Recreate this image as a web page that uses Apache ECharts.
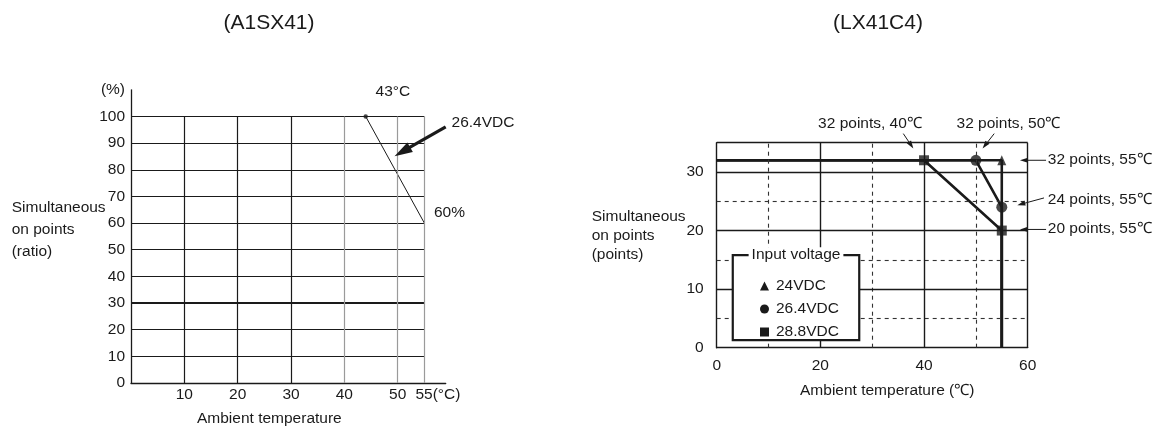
<!DOCTYPE html>
<html><head><meta charset="utf-8">
<script src="https://cdn.jsdelivr.net/npm/echarts@6/dist/echarts.min.js"></script>
<style>html,body{margin:0;padding:0;background:#fff}#c{width:1169px;height:432px}</style>
</head><body><div id="c"></div>
<script>
// ---------- Left chart (A1SX41) ----------
const leftTitle = '(A1SX41)';
const leftXTickLabels = [10, 20, 30, 40, 50];
const leftXEndLabel = 55;
const leftYTickLabels = [0, 10, 20, 30, 40, 50, 60, 70, 80, 90, 100];
const leftCurve = [[44, 100], [55, 60]];          // 26.4VDC derating line
const leftMarks = [[44, 100]];
const leftVGridDark = [10, 20, 30];
const leftVGridLight = [40, 50, 55];
const leftHGrid = [10, 20, 30, 40, 50, 60, 70, 80, 90, 100];
const leftHGridBold = [30];
const leftNotes = [
  { text: '43°C', at: [49.1, 109.4], align: 'center' },
  { text: '26.4VDC', at: [60.1, 97.6], align: 'left' },
  { text: '60%', at: [56.8, 63.8], align: 'left' }
];
const leftArrow = { from: [59.0, 96.1], to: [49.4, 85.1] };

// ---------- Right chart (LX41C4) ----------
const rightTitle = '(LX41C4)';
const rightXTickLabels = [0, 20, 40, 60];
const rightYTickLabels = [0, 10, 20, 30];
const seriesNames = ['24VDC', '26.4VDC', '28.8VDC'];
const line24 = [[0, 32], [55, 32], [55, 0]];
const marks24 = [[55, 32]];
const line264 = [[0, 32], [50, 32], [55, 24], [55, 0]];
const marks264 = [[50, 32], [55, 24]];
const line288 = [[0, 32], [40, 32], [55, 20], [55, 0]];
const marks288 = [[40, 32], [55, 20]];
const rightSolidX = [20, 40, 60];
const rightDashX = [10, 30, 50];
const rightSolidY = [10, 20, 30, 35];
const rightDashY = [5, 15, 25];
const rightNotes = [
  { text: '32 points, 40\u2103', at: [29.57, 38.31], align: 'center' },
  { text: '32 points, 50\u2103', at: [56.28, 38.31], align: 'center' },
  { text: '32 points, 55\u2103', at: [63.87, 32.12], align: 'left' },
  { text: '24 points, 55\u2103', at: [63.87, 25.35], align: 'left' },
  { text: '20 points, 55\u2103', at: [63.87, 20.36], align: 'left' }
];
const rightArrows = [
  { from: [36.0, 36.55], to: [37.94, 34.0] },
  { from: [53.54, 36.55], to: [51.29, 34.0] },
  { from: [63.54, 32.0], to: [58.5, 32.0] },
  { from: [63.15, 25.57], to: [58.0, 24.33] },
  { from: [63.54, 20.19], to: [58.5, 20.19] }
];
const legendBox = { from: [3.1, 15.8], to: [27.5, 1.31] };

const FONT = 'Liberation Sans, Arial, Helvetica, sans-serif';
const FS = 15.5;
const INK = '#1a1a1a';

function hLines(ys, x0, x1, style) {
  return ys.map(y => [{ coord: [x0, y], lineStyle: style }, { coord: [x1, y] }]);
}
function vLines(xs, y0, y1, style) {
  return xs.map(x => [{ coord: [x, y0], lineStyle: style }, { coord: [x, y1] }]);
}

const dark = { color: INK, width: 1.2, type: 'solid' };
const light = { color: '#9a9a9a', width: 1.2, type: 'solid' };
const bold = { color: INK, width: 2.2, type: 'solid' };
const dash = { color: '#333', width: 1.1, type: [4, 4] };
const frame = { color: INK, width: 1.4, type: 'solid' };

const leftGridLines = [].concat(
  hLines(leftHGrid.filter(v => !leftHGridBold.includes(v)), 0, 55, dark),
  hLines(leftHGridBold, 0, 55, bold),
  vLines(leftVGridDark, 0, 100, dark),
  vLines(leftVGridLight, 0, 100, light)
);
const rightGridLines = [].concat(
  vLines(rightDashX, 0, 35, dash),
  hLines(rightDashY, 0, 60, dash),
  vLines(rightSolidX, 0, 35, frame),
  hLines(rightSolidY, 0, 60, frame)
);

function helperSeries(xi, lines) {
  return {
    type: 'line', xAxisIndex: xi, yAxisIndex: xi, data: [[0, 0]], symbol: 'none',
    lineStyle: { opacity: 0 }, silent: true, z: 1, clip: false,
    markLine: { silent: true, symbol: ['none', 'none'], label: { show: false },
      animation: false, data: lines }
  };
}

const thick = { color: INK, width: 2.6 };

const option = {
  animation: false,
  textStyle: { fontFamily: FONT, color: INK },
  title: [
    { text: leftTitle, left: 264, top: 8, textAlign: 'center',
      textStyle: { fontFamily: FONT, fontSize: 21, fontWeight: 'normal', color: INK } },
    { text: rightTitle, left: 873, top: 8, textAlign: 'center',
      textStyle: { fontFamily: FONT, fontSize: 21, fontWeight: 'normal', color: INK } }
  ],
  grid: [
    { left: 131, top: 89.8, width: 314.7, height: 295.9 },
    { left: 716.7, top: 142.7, width: 311, height: 205 }
  ],
  xAxis: [
    { gridIndex: 0, type: 'value', min: 0, max: 59, interval: 5,
      axisLine: { lineStyle: { color: INK, width: 1.3 } }, axisTick: { show: false },
      splitLine: { show: false },
      axisLabel: { fontSize: FS, color: INK, margin: 4, fontFamily: FONT,
        formatter: v => v === leftXEndLabel ? '{p|}' + v + '(°C)' : (leftXTickLabels.includes(v) ? String(v) : ''),
        rich: { p: { width: 27 } } },
      name: 'Ambient temperature', nameLocation: 'middle', nameGap: 28,
      nameTextStyle: { fontSize: FS, color: INK, fontFamily: FONT, padding: [0, 38, 0, 0] } },
    { gridIndex: 1, type: 'value', min: 0, max: 60, interval: 20,
      axisLine: { lineStyle: { color: INK, width: 1.4 } }, axisTick: { show: false },
      splitLine: { show: false },
      axisLabel: { fontSize: FS, color: INK, margin: 10, fontFamily: FONT,
        formatter: v => rightXTickLabels.includes(v) ? String(v) : '' },
      name: 'Ambient temperature (\u2103)', nameLocation: 'middle', nameGap: 35,
      nameTextStyle: { fontSize: FS, color: INK, fontFamily: FONT, padding: [0, 0, 0, 30] } }
  ],
  yAxis: [
    { gridIndex: 0, type: 'value', min: 0, max: 110, interval: 10,
      axisLine: { show: true, lineStyle: { color: INK, width: 1.3 } }, axisTick: { show: false },
      splitLine: { show: false },
      axisLabel: { fontSize: FS, color: INK, margin: 6, fontFamily: FONT,
        formatter: v => v === 110 ? '(%)' : (leftYTickLabels.includes(v) ? String(v) : '') } },
    { gridIndex: 1, type: 'value', min: 0, max: 35, interval: 10,
      axisLine: { show: true, lineStyle: { color: INK, width: 1.4 } }, axisTick: { show: false },
      splitLine: { show: false },
      axisLabel: { fontSize: FS, color: INK, margin: 13, fontFamily: FONT,
        formatter: v => rightYTickLabels.includes(v) ? String(v) : '' } }
  ],
  legend: {
    data: [
      { name: seriesNames[0], icon: 'triangle' },
      { name: seriesNames[1], icon: 'circle' },
      { name: seriesNames[2], icon: 'rect' }
    ],
    orient: 'vertical', left: 755, top: 273, itemWidth: 9, itemHeight: 9, itemGap: 7,
    z: 20, selectedMode: false,
    textStyle: { fontSize: FS, color: INK, fontFamily: FONT, lineHeight: 16, padding: [0, 0, 0, 2] }
  },
  series: [
    helperSeries(0, leftGridLines),
    helperSeries(1, rightGridLines),
    { name: '26.4VDC (A1SX41)', type: 'line', xAxisIndex: 0, yAxisIndex: 0, data: leftCurve,
      symbol: 'none', lineStyle: { color: INK, width: 1 }, z: 3 },
    { name: '26.4VDC (A1SX41) point', type: 'scatter', xAxisIndex: 0, yAxisIndex: 0, data: leftMarks,
      symbol: 'circle', symbolSize: 4.5, itemStyle: { color: INK }, z: 4 },

    { name: seriesNames[0], type: 'line', xAxisIndex: 1, yAxisIndex: 1, data: line24,
      symbol: 'none', lineStyle: thick, itemStyle: { color: INK }, z: 3 },
    { name: seriesNames[1], type: 'line', xAxisIndex: 1, yAxisIndex: 1, data: line264,
      symbol: 'none', lineStyle: thick, itemStyle: { color: INK }, z: 3 },
    { name: seriesNames[2], type: 'line', xAxisIndex: 1, yAxisIndex: 1, data: line288,
      symbol: 'none', lineStyle: thick, itemStyle: { color: INK }, z: 3 },
    { name: seriesNames[0], type: 'scatter', xAxisIndex: 1, yAxisIndex: 1, data: marks24,
      symbol: 'triangle', symbolSize: [9, 10], itemStyle: { color: INK }, z: 4 },
    { name: seriesNames[1], type: 'scatter', xAxisIndex: 1, yAxisIndex: 1, data: marks264,
      symbol: 'circle', symbolSize: 11, itemStyle: { color: INK }, z: 4 },
    { name: seriesNames[2], type: 'scatter', xAxisIndex: 1, yAxisIndex: 1, data: marks288,
      symbol: 'rect', symbolSize: 10, itemStyle: { color: INK }, z: 4 }
  ]
};

const chart = echarts.init(document.getElementById('c'), null, { renderer: 'canvas' });
chart.setOption(option);

const L = p => chart.convertToPixel({ gridIndex: 0 }, p);
const R = p => chart.convertToPixel({ gridIndex: 1 }, p);

function arrow(p0, p1, w, headLen, headW, color) {
  const dx = p1[0] - p0[0], dy = p1[1] - p0[1], len = Math.hypot(dx, dy);
  const ux = dx / len, uy = dy / len, nx = -uy, ny = ux;
  const bx = p1[0] - ux * headLen, by = p1[1] - uy * headLen;
  return [
    { type: 'line', z: 30, silent: true,
      shape: { x1: p0[0], y1: p0[1], x2: bx + ux * 1, y2: by + uy * 1 },
      style: { stroke: color, lineWidth: w } },
    { type: 'polygon', z: 30, silent: true,
      shape: { points: [[p1[0], p1[1]], [bx + nx * headW, by + ny * headW], [bx - nx * headW, by - ny * headW]] },
      style: { fill: color } }
  ];
}
function note(n, conv) {
  const p = conv(n.at);
  return { type: 'text', x: p[0], y: p[1], z: 30, silent: true,
    style: { text: n.text, font: FS + 'px ' + FONT, fill: INK, align: n.align, verticalAlign: 'middle' } };
}

const g = [];
leftNotes.forEach(n => g.push(note(n, L)));
g.push(...arrow(L(leftArrow.from), L(leftArrow.to), 3.2, 18, 5.5, INK));
rightNotes.forEach(n => g.push(note(n, R)));
rightArrows.forEach(a => g.push(...arrow(R(a.from), R(a.to), 1, 8, 2.6, INK)));

const b0 = R(legendBox.from), b1 = R(legendBox.to);
g.push({ type: 'rect', z: 10, silent: true,
  shape: { x: b0[0], y: b0[1], width: b1[0] - b0[0], height: b1[1] - b0[1] },
  style: { fill: '#fff', stroke: INK, lineWidth: 2.2 } });
g.push({ type: 'text', x: (b0[0] + b1[0]) / 2, y: b0[1], z: 25, silent: true,
  style: { text: 'Input voltage', font: FS + 'px ' + FONT, fill: INK, align: 'center', verticalAlign: 'middle',
    backgroundColor: '#fff', padding: [0, 3, 0, 3] } });

// y-axis titles
g.push({ type: 'text', x: 11.7, y: 229.3, silent: true,
  style: { text: 'Simultaneous\non points\n(ratio)', font: FS + 'px ' + FONT, fill: INK,
    align: 'left', verticalAlign: 'middle', lineHeight: 22 } });
g.push({ type: 'text', x: 591.7, y: 236, silent: true,
  style: { text: 'Simultaneous\non points\n(points)', font: FS + 'px ' + FONT, fill: INK,
    align: 'left', verticalAlign: 'middle', lineHeight: 19 } });

chart.setOption({ graphic: g });
</script>
</body></html>
